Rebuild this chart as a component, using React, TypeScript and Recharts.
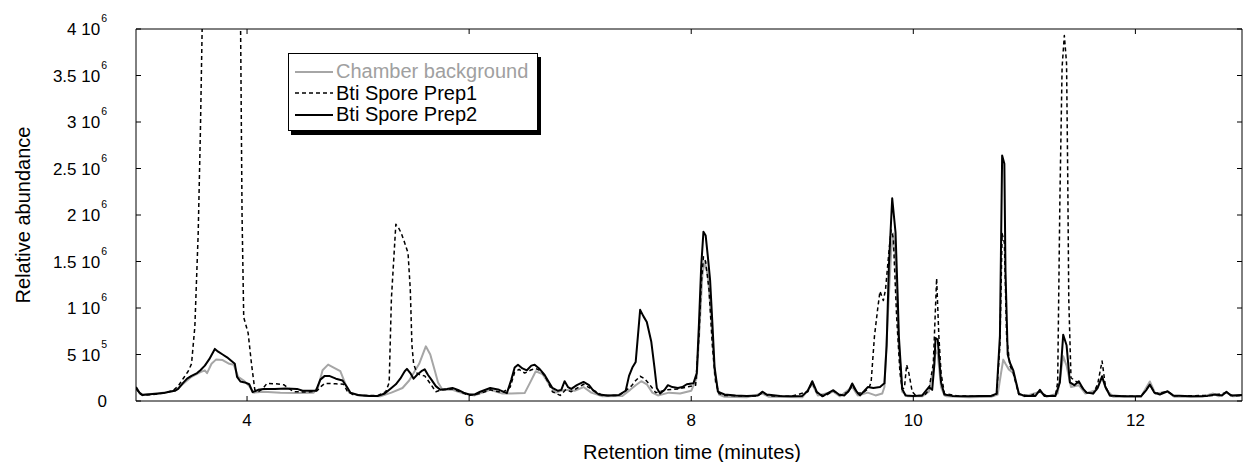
import React from 'react';
import { LineChart, Line, XAxis, YAxis, Legend } from 'recharts';

const FONT = '"Liberation Sans", Arial, Helvetica, sans-serif';

type Pt = [number, number]; // [retention time (min), abundance]

const chamberBackground: Pt[] = [
  [3.0, 130000], [3.05, 70000], [3.2, 80000], [3.35, 110000], [3.42, 180000], [3.5, 260000],
  [3.58, 310000], [3.62, 330000], [3.64, 300000], [3.68, 400000], [3.72, 445000], [3.78, 440000],
  [3.84, 400000], [3.88, 390000], [3.92, 260000], [3.97, 220000], [4.02, 160000], [4.06, 90000],
  [4.15, 100000], [4.3, 90000], [4.45, 85000], [4.6, 90000], [4.64, 150000], [4.68, 330000],
  [4.73, 391000], [4.78, 360000], [4.84, 320000], [4.88, 200000], [4.92, 90000], [5.0, 60000],
  [5.2, 50000], [5.3, 90000], [5.4, 140000], [5.46, 220000], [5.5, 300000], [5.55, 400000],
  [5.61, 588000], [5.65, 500000], [5.69, 330000], [5.72, 200000], [5.76, 120000], [5.85, 120000],
  [5.95, 80000], [6.05, 60000], [6.19, 120000], [6.3, 80000], [6.38, 80000], [6.5, 85000],
  [6.55, 200000], [6.6, 320000], [6.66, 290000], [6.72, 180000], [6.78, 90000], [6.86, 120000],
  [6.95, 110000], [7.03, 150000], [7.1, 90000], [7.2, 50000], [7.38, 55000], [7.45, 120000],
  [7.5, 170000], [7.55, 213000], [7.6, 180000], [7.65, 90000], [7.7, 60000], [7.8, 90000],
  [7.9, 80000], [8.0, 110000], [8.05, 250000], [8.08, 900000], [8.1, 1350000], [8.12, 1500000],
  [8.15, 1350000], [8.18, 900000], [8.21, 300000], [8.25, 70000], [8.3, 45000], [8.5, 40000],
  [8.64, 80000], [8.7, 45000], [9.0, 40000], [9.09, 180000], [9.14, 60000], [9.28, 100000],
  [9.34, 50000], [9.45, 150000], [9.5, 60000], [9.59, 90000], [9.66, 60000], [9.72, 80000],
  [9.74, 150000], [9.77, 900000], [9.8, 1600000], [9.82, 1800000], [9.84, 1500000], [9.87, 600000],
  [9.9, 100000], [9.95, 50000], [10.08, 50000], [10.14, 100000], [10.18, 350000], [10.2, 550000],
  [10.22, 500000], [10.25, 150000], [10.28, 60000], [10.3, 50000], [10.5, 40000], [10.7, 45000],
  [10.76, 70000], [10.79, 300000], [10.81, 445000], [10.83, 400000], [10.86, 340000], [10.9, 300000],
  [10.95, 80000], [11.0, 50000], [11.14, 100000], [11.2, 45000], [11.3, 80000], [11.35, 480000],
  [11.38, 380000], [11.42, 150000], [11.49, 170000], [11.55, 80000], [11.65, 120000], [11.7, 250000],
  [11.74, 120000], [11.8, 45000], [12.05, 45000], [12.13, 210000], [12.18, 80000], [12.29, 100000],
  [12.35, 45000], [12.6, 45000], [12.7, 80000], [12.75, 50000], [12.82, 90000], [12.88, 50000],
  [12.96, 60000],
];

const sporePrep1: Pt[] = [
  [3.0, 140000], [3.03, 80000], [3.06, 60000], [3.15, 70000], [3.25, 85000], [3.33, 110000],
  [3.38, 160000], [3.43, 250000], [3.47, 320000], [3.5, 400000], [3.53, 800000], [3.56, 1800000],
  [3.58, 2900000], [3.6, 4300000], [3.65, 6500000], [3.78, 7500000], [3.9, 6000000], [3.94, 4300000],
  [3.955, 2000000], [3.97, 900000], [4.01, 730000], [4.04, 400000], [4.07, 120000], [4.1, 100000],
  [4.14, 130000], [4.18, 190000], [4.26, 185000], [4.33, 175000], [4.37, 140000], [4.42, 100000],
  [4.55, 95000], [4.63, 110000], [4.67, 160000], [4.7, 190000], [4.8, 185000], [4.87, 180000],
  [4.9, 110000], [4.95, 70000], [5.05, 60000], [5.18, 60000], [5.25, 100000], [5.28, 200000],
  [5.3, 1100000], [5.32, 1500000], [5.34, 1900000], [5.37, 1850000], [5.39, 1800000], [5.42, 1700000],
  [5.45, 1590000], [5.47, 1200000], [5.485, 600000], [5.5, 400000], [5.53, 300000], [5.56, 280000],
  [5.6, 270000], [5.63, 220000], [5.66, 170000], [5.7, 100000], [5.75, 120000], [5.85, 130000],
  [5.95, 85000], [6.0, 60000], [6.1, 80000], [6.19, 120000], [6.3, 90000], [6.37, 150000],
  [6.41, 310000], [6.45, 340000], [6.5, 300000], [6.55, 330000], [6.6, 350000], [6.65, 320000],
  [6.7, 230000], [6.75, 100000], [6.82, 60000], [6.87, 120000], [6.92, 100000], [7.03, 180000],
  [7.1, 130000], [7.2, 60000], [7.35, 60000], [7.42, 120000], [7.46, 160000], [7.5, 220000],
  [7.54, 266000], [7.58, 240000], [7.63, 170000], [7.68, 90000], [7.78, 120000], [7.88, 130000],
  [7.96, 150000], [8.04, 170000], [8.07, 700000], [8.09, 1250000], [8.11, 1550000], [8.13, 1500000],
  [8.16, 1200000], [8.19, 600000], [8.22, 200000], [8.25, 80000], [8.3, 60000], [8.45, 55000],
  [8.6, 55000], [8.64, 90000], [8.7, 55000], [8.9, 50000], [9.05, 100000], [9.09, 200000],
  [9.13, 90000], [9.2, 50000], [9.28, 110000], [9.34, 60000], [9.42, 100000], [9.45, 170000],
  [9.5, 80000], [9.56, 100000], [9.6, 140000], [9.62, 200000], [9.65, 695000], [9.68, 1000000],
  [9.7, 1180000], [9.73, 1080000], [9.75, 1200000], [9.78, 1600000], [9.8, 1840000], [9.82, 1750000],
  [9.85, 900000], [9.88, 300000], [9.9, 130000], [9.92, 140000], [9.94, 390000], [9.96, 300000],
  [9.99, 100000], [10.02, 60000], [10.1, 60000], [10.14, 120000], [10.18, 400000], [10.21, 1320000],
  [10.23, 700000], [10.25, 300000], [10.28, 80000], [10.4, 55000], [10.6, 50000], [10.75, 60000],
  [10.78, 600000], [10.8, 1800000], [10.82, 1700000], [10.84, 700000], [10.87, 380000], [10.9, 300000],
  [10.95, 70000], [11.05, 55000], [11.14, 100000], [11.2, 55000], [11.28, 60000], [11.3, 200000],
  [11.32, 2160000], [11.34, 3590000], [11.36, 3930000], [11.38, 3630000], [11.39, 2500000],
  [11.4, 1090000], [11.42, 250000], [11.49, 190000], [11.56, 90000], [11.62, 80000], [11.66, 180000],
  [11.7, 430000], [11.73, 160000], [11.77, 60000], [11.8, 50000], [12.05, 50000], [12.13, 170000],
  [12.18, 80000], [12.29, 100000], [12.35, 55000], [12.7, 60000], [12.82, 90000], [12.88, 55000],
  [12.96, 60000],
];

const sporePrep2: Pt[] = [
  [3.0, 150000], [3.03, 90000], [3.06, 65000], [3.1, 70000], [3.15, 75000], [3.2, 80000],
  [3.25, 85000], [3.3, 100000], [3.35, 110000], [3.38, 130000], [3.42, 190000], [3.46, 240000],
  [3.5, 270000], [3.55, 300000], [3.58, 330000], [3.62, 380000], [3.66, 450000], [3.71, 560000],
  [3.74, 530000], [3.78, 500000], [3.82, 470000], [3.86, 430000], [3.89, 400000], [3.91, 260000],
  [3.94, 210000], [3.98, 200000], [4.02, 180000], [4.05, 95000], [4.1, 120000], [4.15, 130000],
  [4.25, 130000], [4.35, 135000], [4.45, 130000], [4.5, 110000], [4.55, 110000], [4.62, 110000],
  [4.66, 230000], [4.7, 270000], [4.74, 270000], [4.8, 240000], [4.86, 220000], [4.9, 150000],
  [4.93, 90000], [5.0, 65000], [5.1, 55000], [5.18, 55000], [5.24, 80000], [5.3, 140000],
  [5.34, 180000], [5.38, 240000], [5.42, 320000], [5.44, 345000], [5.47, 300000], [5.5, 240000],
  [5.53, 280000], [5.57, 320000], [5.6, 340000], [5.63, 280000], [5.66, 230000], [5.7, 160000],
  [5.74, 120000], [5.8, 130000], [5.85, 140000], [5.9, 120000], [5.95, 90000], [6.0, 70000],
  [6.05, 70000], [6.1, 100000], [6.19, 140000], [6.27, 120000], [6.34, 85000], [6.38, 230000],
  [6.41, 360000], [6.44, 390000], [6.48, 350000], [6.52, 330000], [6.56, 380000], [6.59, 390000],
  [6.63, 350000], [6.68, 280000], [6.72, 200000], [6.75, 140000], [6.8, 110000], [6.83, 120000],
  [6.86, 213000], [6.89, 150000], [6.92, 130000], [6.97, 170000], [7.03, 205000], [7.08, 170000],
  [7.12, 110000], [7.17, 70000], [7.25, 60000], [7.35, 65000], [7.41, 110000], [7.44, 270000],
  [7.47, 360000], [7.5, 420000], [7.54, 980000], [7.57, 910000], [7.6, 850000], [7.64, 640000],
  [7.67, 350000], [7.69, 140000], [7.72, 80000], [7.76, 120000], [7.79, 170000], [7.83, 150000],
  [7.88, 140000], [7.92, 150000], [7.96, 180000], [8.02, 190000], [8.05, 300000], [8.07, 840000],
  [8.09, 1450000], [8.11, 1820000], [8.13, 1780000], [8.15, 1550000], [8.17, 1300000], [8.19, 850000],
  [8.21, 370000], [8.24, 100000], [8.3, 70000], [8.4, 60000], [8.5, 55000], [8.6, 60000],
  [8.64, 100000], [8.68, 70000], [8.8, 55000], [8.9, 50000], [9.0, 55000], [9.05, 110000],
  [9.09, 213000], [9.13, 100000], [9.18, 50000], [9.24, 90000], [9.28, 116000], [9.33, 70000],
  [9.38, 60000], [9.42, 110000], [9.45, 188000], [9.49, 100000], [9.52, 60000], [9.56, 110000],
  [9.59, 150000], [9.64, 140000], [9.7, 150000], [9.74, 190000], [9.76, 600000], [9.78, 1450000],
  [9.81, 2180000], [9.84, 1810000], [9.86, 1100000], [9.87, 695000], [9.9, 130000], [9.93, 60000],
  [10.0, 55000], [10.08, 60000], [10.14, 150000], [10.17, 120000], [10.19, 400000], [10.2, 677000],
  [10.22, 660000], [10.25, 200000], [10.28, 70000], [10.35, 55000], [10.5, 50000], [10.6, 55000],
  [10.7, 55000], [10.75, 80000], [10.78, 700000], [10.8, 2640000], [10.82, 2550000], [10.83, 1400000],
  [10.85, 500000], [10.87, 411000], [10.9, 330000], [10.95, 80000], [11.0, 55000], [11.1, 55000],
  [11.14, 120000], [11.18, 55000], [11.28, 55000], [11.32, 200000], [11.35, 713000], [11.38, 600000],
  [11.41, 200000], [11.45, 170000], [11.49, 213000], [11.53, 130000], [11.56, 90000], [11.62, 80000],
  [11.66, 140000], [11.7, 266000], [11.73, 150000], [11.77, 60000], [11.9, 50000], [12.05, 50000],
  [12.1, 120000], [12.13, 177000], [12.17, 90000], [12.22, 70000], [12.29, 105000], [12.34, 60000],
  [12.5, 50000], [12.65, 55000], [12.72, 70000], [12.78, 60000], [12.82, 100000], [12.86, 60000],
  [12.96, 65000],
];

const xDomain: [number, number] = [3, 12.96];
const xTicks = [4, 6, 8, 10, 12];
const yTicks = [0, 500000, 1000000, 1500000, 2000000, 2500000, 3000000, 3500000, 4000000];
const yTickMantissas = ['0', '5 10', '1 10', '1.5 10', '2 10', '2.5 10', '3 10', '3.5 10', '4 10'];
const yTickExponents = ['', '5', '6', '6', '6', '6', '6', '6', '6'];

const series = [
  { key: 'bg', name: 'Chamber background', points: chamberBackground, color: '#a6a6a6', width: 2, dash: undefined as string | undefined },
  { key: 'p1', name: 'Bti Spore Prep1', points: sporePrep1, color: '#000000', width: 1.5, dash: '4 3' },
  { key: 'p2', name: 'Bti Spore Prep2', points: sporePrep2, color: '#000000', width: 2, dash: undefined as string | undefined },
];

const toRows = (pts: Pt[]) => pts.map(([t, v]) => ({ t, v }));

const TICK_LEN = 5;
const Y_LABEL_GAP = 29;
const X_LABEL_GAP = 25;

const LeftTick = (props: any) => {
  const { x, y, payload } = props;
  const i = yTicks.indexOf(payload.value);
  const axisX = x + Y_LABEL_GAP;
  return (
    <g>
      <line x1={axisX} x2={axisX + TICK_LEN} y1={y} y2={y} stroke="#000" strokeWidth={1} />
      <text x={x} y={y + 6} textAnchor="end" fontSize={17} fontFamily={FONT} fill="#000">
        <tspan>{yTickMantissas[i]}</tspan>
        {yTickExponents[i] ? <tspan dy={-13} dx={1} fontSize={10.5}>{yTickExponents[i]}</tspan> : null}
      </text>
    </g>
  );
};

const RightTick = (props: any) => {
  const { x, y } = props;
  return <line x1={x} x2={x - TICK_LEN} y1={y} y2={y} stroke="#000" strokeWidth={1} />;
};

const BottomTick = (props: any) => {
  const { x, y, payload } = props;
  const axisY = y - X_LABEL_GAP;
  return (
    <g>
      <line x1={x} x2={x} y1={axisY} y2={axisY - TICK_LEN} stroke="#000" strokeWidth={1} />
      <text x={x} y={y} textAnchor="middle" fontSize={17} fontFamily={FONT} fill="#000">
        {payload.value}
      </text>
    </g>
  );
};

const TopTick = (props: any) => {
  const { x, y } = props;
  return <line x1={x} x2={x} y1={y} y2={y + TICK_LEN} stroke="#000" strokeWidth={1} />;
};

const YTitle = (props: any) => {
  const vb = props.viewBox || { x: 0, y: 29, width: 136, height: 372 };
  const cx = vb.x + 30;
  const cy = vb.y + vb.height / 2;
  return (
    <text
      x={cx}
      y={cy}
      transform={`rotate(-90, ${cx}, ${cy})`}
      textAnchor="middle"
      fontSize={20}
      fontFamily={FONT}
      fill="#000"
    >
      Relative abundance
    </text>
  );
};

const LegendBox = () => (
  <div
    style={{
      background: '#fff',
      border: '1px solid #000',
      boxShadow: '3px 4px 0 #000',
      padding: '7px 8px 4px 6px',
      fontFamily: FONT,
      fontSize: 20,
      lineHeight: '21.5px',
      width: 234,
      boxSizing: 'content-box',
    }}
  >
    {series.map((s) => (
      <div key={s.key} style={{ display: 'flex', alignItems: 'center', height: 21.5, whiteSpace: 'nowrap' }}>
        <svg width={38} height={6} style={{ display: 'block', marginRight: 3 }}>
          <line x1={0} x2={38} y1={3} y2={3} stroke={s.color} strokeWidth={s.width} strokeDasharray={s.dash} />
        </svg>
        <span style={{ color: s.key === 'bg' ? '#a0a0a0' : '#000' }}>{s.name}</span>
      </div>
    ))}
  </div>
);

export default function App() {
  return (
    <div style={{ position: 'absolute', left: 0, top: 0, width: 1243, height: 462, background: '#fff', overflow: 'hidden' }}>
      <LineChart width={1243} height={462} margin={{ top: 0, right: 0, bottom: 0, left: 0 }}>
        <XAxis
          xAxisId="bottom"
          type="number"
          dataKey="t"
          domain={xDomain}
          ticks={xTicks}
          allowDataOverflow
          height={61}
          tickSize={0}
          tickMargin={X_LABEL_GAP}
          tickLine={false}
          axisLine={{ stroke: '#000', strokeWidth: 1 }}
          tick={<BottomTick />}
          label={{
            value: 'Retention time (minutes)',
            position: 'insideBottom',
            offset: 3,
            dx: 3,
            fontSize: 20,
            fontFamily: FONT,
            fill: '#000',
          }}
        />
        <XAxis
          xAxisId="top"
          orientation="top"
          type="number"
          dataKey="t"
          domain={xDomain}
          ticks={xTicks}
          allowDataOverflow
          height={29}
          tickSize={0}
          tickMargin={0}
          tickLine={false}
          axisLine={{ stroke: '#000', strokeWidth: 1 }}
          tick={<TopTick />}
        />
        <YAxis
          yAxisId="left"
          type="number"
          domain={[0, 4000000]}
          ticks={yTicks}
          allowDataOverflow
          width={136}
          tickSize={0}
          tickMargin={Y_LABEL_GAP}
          tickLine={false}
          axisLine={{ stroke: '#000', strokeWidth: 1 }}
          tick={<LeftTick />}
          label={{ content: <YTitle /> }}
        />
        <YAxis
          yAxisId="right"
          orientation="right"
          type="number"
          domain={[0, 4000000]}
          ticks={yTicks}
          allowDataOverflow
          width={1}
          tickSize={0}
          tickMargin={0}
          tickLine={false}
          axisLine={{ stroke: '#000', strokeWidth: 1 }}
          tick={<RightTick />}
        />
        <Legend
          layout="vertical"
          align="center"
          verticalAlign="middle"
          content={<LegendBox />}
          wrapperStyle={{ left: 288, top: 53, width: 'auto' }}
        />
        {series.map((s) => (
          <Line
            key={s.key}
            xAxisId="bottom"
            yAxisId="left"
            data={toRows(s.points)}
            dataKey="v"
            name={s.name}
            type="linear"
            stroke={s.color}
            strokeWidth={s.width}
            strokeDasharray={s.dash}
            strokeLinejoin="round"
            dot={false}
            activeDot={false}
            isAnimationActive={false}
            legendType="line"
          />
        ))}
      </LineChart>
    </div>
  );
}
